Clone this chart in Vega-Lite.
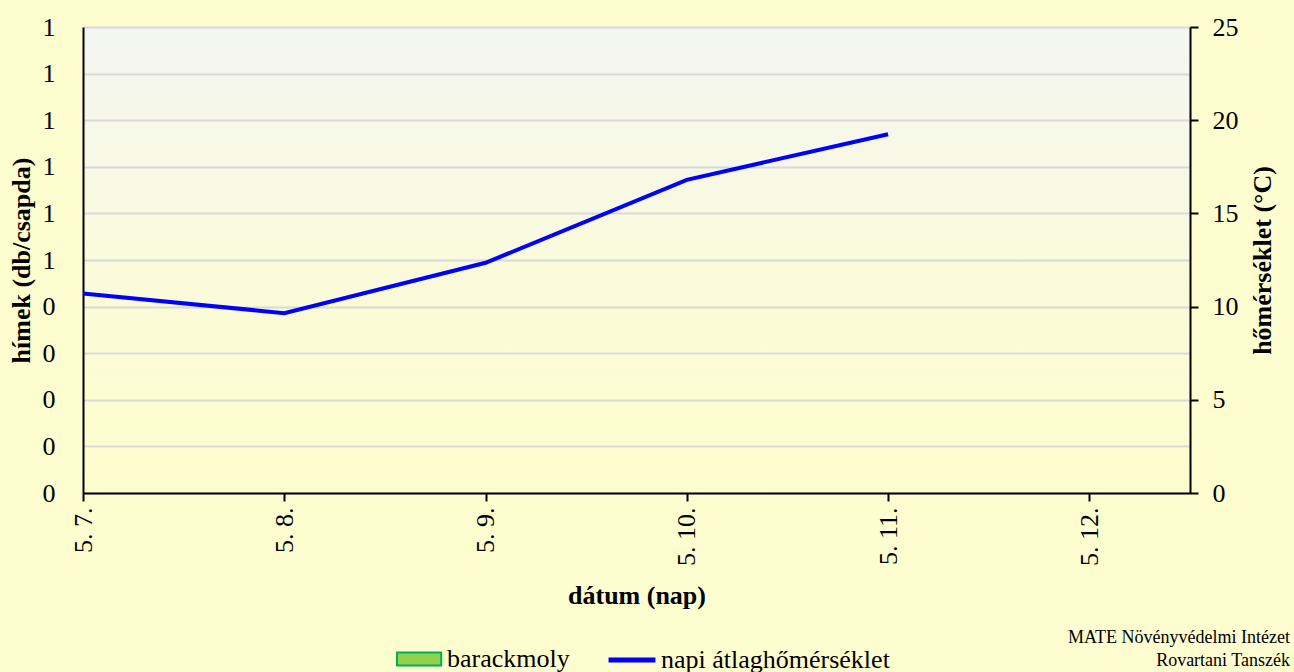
{
  "$schema": "https://vega.github.io/schema/vega-lite/v6.json",
  "width": 1107,
  "height": 466,
  "autosize": "none",
  "padding": {"left": 83, "top": 27, "right": 104, "bottom": 179},
  "background": "#fefdd0",
  "config": {
    "view": {
      "stroke": null,
      "fill": {
        "gradient": "linear", "x1": 0, "y1": 0, "x2": 0, "y2": 1,
        "stops": [
          {"offset": 0, "color": "#f4f6f2"},
          {"offset": 0.6, "color": "#fbfbd8"},
          {"offset": 1, "color": "#fffdcd"}
        ]
      }
    },
    "font": "Liberation Serif",
    "axis": {
      "labelFont": "Liberation Serif",
      "titleFont": "Liberation Serif",
      "labelColor": "#000000",
      "titleColor": "#000000",
      "labelFontSize": 26,
      "titleFontSize": 26,
      "titleFontWeight": "bold",
      "domainColor": "#000000",
      "domainWidth": 2,
      "tickColor": "#000000",
      "tickWidth": 2,
      "tickSize": 8,
      "gridColor": "#d9d9d9",
      "gridWidth": 2
    },
    "legend": {
      "labelFont": "Liberation Serif",
      "labelFontSize": 26,
      "labelColor": "#000000",
      "labelLimit": 600,
      "padding": 0
    }
  },
  "data": {
    "values": [
      {"date": "2023-05-07", "barackmoly": 0, "homerseklet": 10.7},
      {"date": "2023-05-08", "barackmoly": 0, "homerseklet": 9.65},
      {"date": "2023-05-09", "barackmoly": 0, "homerseklet": 12.35},
      {"date": "2023-05-10", "barackmoly": 0, "homerseklet": 16.8},
      {"date": "2023-05-11", "barackmoly": 0, "homerseklet": 19.25},
      {"date": "2023-05-12", "barackmoly": 0, "homerseklet": null}
    ]
  },
  "encoding": {
    "x": {
      "field": "date",
      "type": "temporal",
      "scale": {
        "type": "utc",
        "padding": 0,
        "domain": [
          {"year": 2023, "month": 5, "date": 7, "utc": true},
          {"year": 2023, "month": 5, "date": 12, "hours": 12, "utc": true}
        ]
      },
      "axis": {
        "title": "dátum (nap)",
        "format": "%-m. %-d.",
        "tickCount": {"interval": "day", "step": 1},
        "labelAngle": 270,
        "labelPadding": 6,
        "titlePadding": 17,
        "grid": false
      }
    }
  },
  "layer": [
    {
      "mark": {"type": "bar", "width": 40},
      "encoding": {
        "y": {
          "field": "barackmoly",
          "type": "quantitative",
          "scale": {"domain": [0, 1]},
          "axis": {
            "title": "hímek (db/csapda)",
            "tickCount": 10,
            "format": ".0f",
            "ticks": false,
            "grid": true,
            "labelPadding": 28,
            "titlePadding": 8
          }
        },
        "fill": {
          "datum": "barackmoly",
          "type": "nominal",
          "scale": {"range": ["#92d050"]},
          "legend": {
            "title": null,
            "orient": "none",
            "legendX": 313,
            "legendY": 618,
            "symbolType": "M-1,-0.5H2.4V0.5H-1Z",
            "symbolSize": 676,
            "symbolStrokeColor": "#00b050",
            "symbolStrokeWidth": 2,
            "symbolOpacity": 1,
            "labelOffset": 23
          }
        }
      }
    },
    {
      "mark": {"type": "line", "strokeWidth": 4},
      "encoding": {
        "y": {
          "field": "homerseklet",
          "type": "quantitative",
          "scale": {"domain": [0, 25]},
          "axis": {
            "title": "hőmérséklet (°C)",
            "orient": "right",
            "tickCount": 5,
            "grid": false,
            "labelPadding": 14,
            "titlePadding": 11,
            "titleAngle": 270,
            "titleBaseline": "top"
          }
        },
        "stroke": {
          "datum": "napi átlaghőmérséklet",
          "type": "nominal",
          "scale": {"range": ["#0000ff"]},
          "legend": {
            "title": null,
            "orient": "none",
            "legendX": 523,
            "legendY": 607,
            "symbolType": "stroke",
            "symbolSize": 2200,
            "symbolStrokeWidth": 5,
            "labelOffset": 3
          }
        }
      }
    }
  ],
  "resolve": {"scale": {"y": "independent", "fill": "independent", "stroke": "independent"}},
  "title": {
    "text": ["MATE Növényvédelmi Intézet", "Rovartani Tanszék"],
    "orient": "bottom",
    "anchor": "end",
    "frame": "group",
    "align": "right",
    "font": "Liberation Serif",
    "fontSize": 18,
    "fontWeight": "normal",
    "color": "#000000",
    "lineHeight": 23,
    "dx": 100,
    "dy": -64,
    "offset": 20
  }
}
